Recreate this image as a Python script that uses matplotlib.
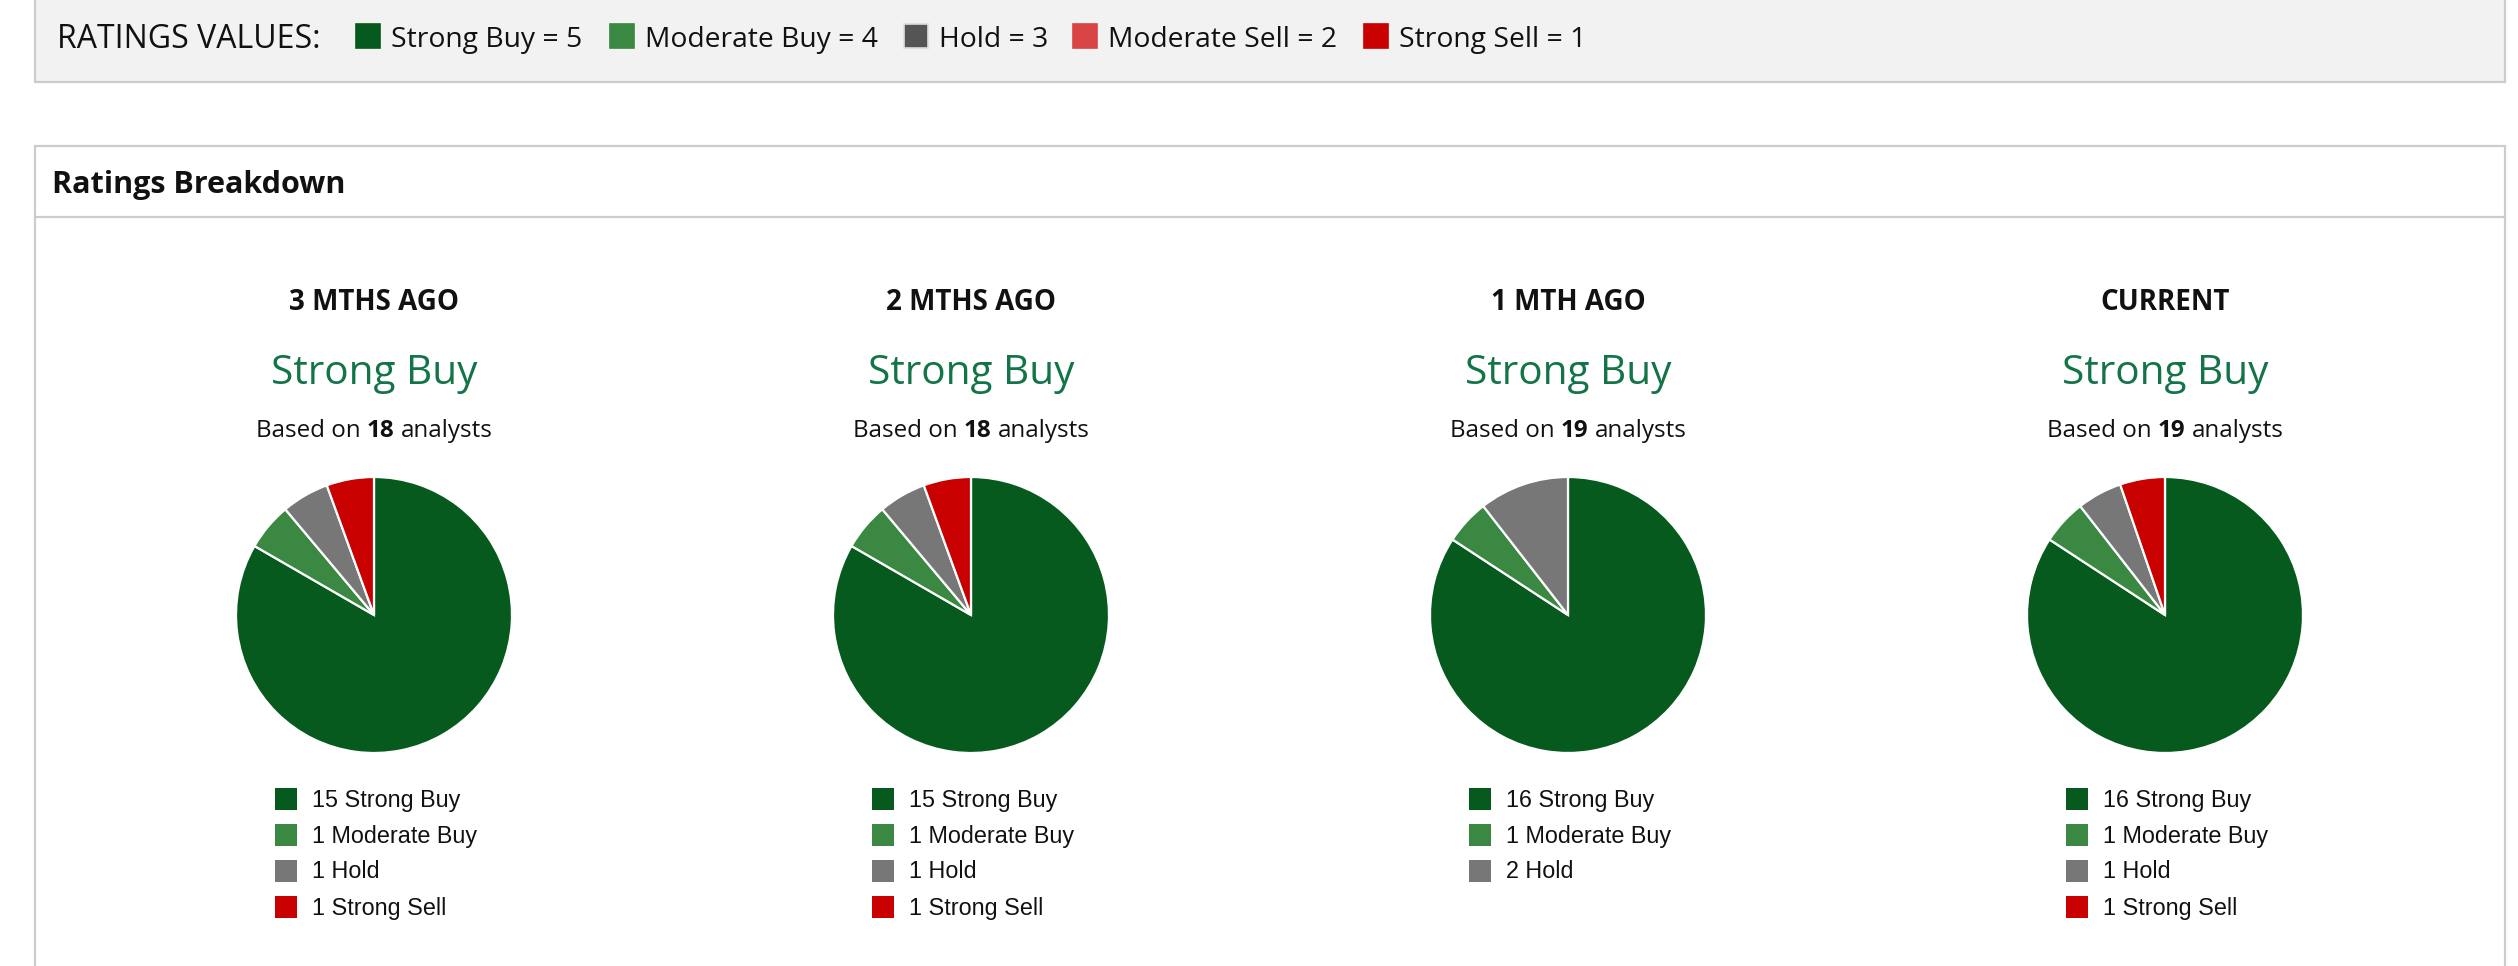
import matplotlib
matplotlib.use("Agg")
import matplotlib.pyplot as plt
from matplotlib.patches import Rectangle

# ---------------- data ----------------
periods = ["3 MTHS AGO", "2 MTHS AGO", "1 MTH AGO", "CURRENT"]
consensus = ["Strong Buy", "Strong Buy", "Strong Buy", "Strong Buy"]
rating_names = ["Strong Buy", "Moderate Buy", "Hold", "Moderate Sell", "Strong Sell"]
rating_values = [5, 4, 3, 2, 1]
strong_buy = [15, 15, 16, 16]
moderate_buy = [1, 1, 1, 1]
hold = [1, 1, 2, 1]
moderate_sell = [0, 0, 0, 0]
strong_sell = [1, 1, 0, 1]

# ---------------- styles ----------------
pie_colors = ["#065a1e", "#3b8843", "#777777", "#d94545", "#c80000"]
banner_colors = ["#065a1e", "#3b8843", "#555555", "#d94545", "#c80000"]
green_txt = "#137447"
border = "#cccccc"
HEAD = "Open Sans"
LEG = "Liberation Sans"

W, H = 2518, 966
DPI = 100
fig = plt.figure(figsize=(W / DPI, H / DPI), dpi=DPI)
fig.patch.set_facecolor("white")
bg = fig.add_axes([0, 0, 1, 1])
bg.set_xlim(0, W)
bg.set_ylim(H, 0)
bg.axis("off")
renderer = fig.canvas.get_renderer()

# ---------------- banner ----------------
bg.add_patch(Rectangle((35, -5), 2470, 87, facecolor="#f2f2f2", edgecolor=border, lw=1.6))
bg.text(57, 40, "RATINGS VALUES:", fontsize=23, family=HEAD, va="center", ha="left", color="#111111")
sq_x = [356, 610, 904, 1073, 1364]
for i, (nm, v) in enumerate(zip(rating_names, rating_values)):
    ec = "#dddddd" if nm == "Hold" else banner_colors[i]
    bg.add_patch(Rectangle((sq_x[i], 24), 24, 24, facecolor=banner_colors[i], edgecolor=ec, lw=1.2))
    bg.text(sq_x[i] + 35, 40, f"{nm} = {v}", fontsize=20.3, family=HEAD, va="center", ha="left", color="#111111")

# ---------------- breakdown box ----------------
bg.add_patch(Rectangle((35, 146), 2470, 900, facecolor="white", edgecolor=border, lw=1.6))
bg.plot([35, 2505], [217, 217], color=border, lw=1.6)
bg.text(52, 185, "Ratings Breakdown", fontsize=22, family=HEAD, weight="bold", va="center", ha="left", color="#111111")


def text_width(s, **kw):
    t = bg.text(0, 0, s, **kw)
    w = t.get_window_extent(renderer).width
    t.remove()
    return w


def mixed_centered(cx, y, parts, size):
    # parts: list of (string, weight)
    sp = text_width("x x", fontsize=size, family=HEAD) - text_width("xx", fontsize=size, family=HEAD)
    widths = [text_width(s, fontsize=size, family=HEAD, weight=wt) for s, wt in parts]
    total = sum(widths) + sp * (len(parts) - 1)
    x = cx - total / 2
    for (s, wt), w in zip(parts, widths):
        bg.text(x, y, s, fontsize=size, family=HEAD, weight=wt, va="center", ha="left", color="#111111")
        x += w + sp


R_PX = 138
L = 1.1
S = 2 * L * R_PX
cy = 615
series = [strong_buy, moderate_buy, hold, moderate_sell, strong_sell]
for i, per in enumerate(periods):
    cx = 75.5 + 597 * (i + 0.5)
    counts = [s[i] for s in series]
    total = sum(counts)
    bg.text(cx, 303, per, fontsize=20, family=HEAD, weight="bold", ha="center", va="center", color="#111111")
    bg.text(cx, 374, consensus[i], fontsize=29.2, family=HEAD, ha="center", va="center", color=green_txt)
    mixed_centered(cx, 431, [("Based on", "normal"), (str(total), "bold"), ("analysts", "normal")], 17.4)

    ax = fig.add_axes([(cx - S / 2) / W, 1 - (cy + S / 2) / H, S / W, S / H])
    vals = [c for c in counts if c > 0]
    cols = [pie_colors[k] for k, c in enumerate(counts) if c > 0]
    ax.pie(vals, colors=cols, startangle=90, counterclock=False, radius=1,
           wedgeprops=dict(edgecolor="white", linewidth=1.6))
    ax.set_xlim(-L, L)
    ax.set_ylim(-L, L)
    ax.set_aspect("equal")
    ax.axis("off")

    row = 0
    for k, c in enumerate(counts):
        if c == 0:
            continue
        y = 799 + 36 * row
        bg.add_patch(Rectangle((cx - 99, y - 11), 22, 22, facecolor=pie_colors[k], edgecolor="none"))
        bg.text(cx - 62, y + 1, f"{c} {rating_names[k]}", fontsize=16.8, family=LEG, ha="left", va="center", color="#111111")
        row += 1

fig.savefig("out.png", dpi=DPI, facecolor="white")
